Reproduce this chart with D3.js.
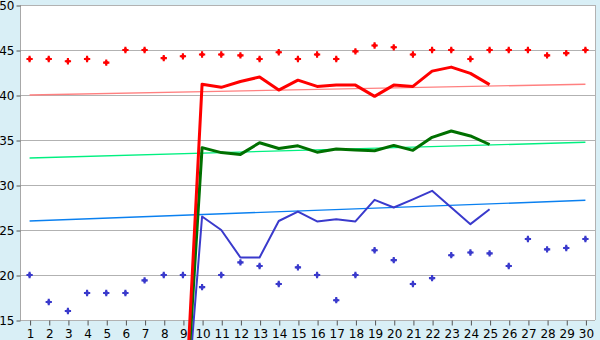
<!DOCTYPE html>
<html>
<head>
<meta charset="utf-8">
<script src="https://cdn.jsdelivr.net/npm/d3@7"></script>
<style>
  html, body { margin: 0; padding: 0; background: #d9eff6; }
  #chart { width: 600px; height: 340px; }
</style>
</head>
<body>
<div id="chart"></div>
<script>
// ── Data ────────────────────────────────────────────────────
const days = d3.range(1, 31);
const yTicks = [15, 20, 25, 30, 35, 40, 45, 50];

// scatter series (one value per day)
const highPoints = [44, 44, 43.75, 44, 43.6, 45, 45, 44.1, 44.3, 44.5,
  44.5, 44.4, 44, 44.75, 44, 44.5, 44, 44.85, 45.5, 45.3,
  44.5, 45, 45, 44, 45, 45, 45, 44.4, 44.65, 45];
const lowPoints = [20, 17, 16, 18, 18, 18, 19.4, 20, 20, 18.65,
  20, 21.4, 21, 19, 20.85, 20, 17.2, 20, 22.75, 21.65,
  19, 19.65, 22.2, 22.5, 22.4, 21, 24, 22.85, 23, 24];

// line series, days 9..25
const lineDays = d3.range(9, 26);
const redLine = [0, 41.2, 40.85, 41.5, 42, 40.55, 41.65, 40.95, 41.1,
  41.1, 39.85, 41.1, 40.95, 42.65, 43.1, 42.4, 41.15];
const greenLine = [0, 34.15, 33.6, 33.4, 34.7, 34.05, 34.35, 33.65, 34,
  33.9, 33.8, 34.4, 33.85, 35.3, 36, 35.45, 34.5];
const blueLine = [0, 26.5, 25, 21.95, 21.95, 26, 27.05, 25.95, 26.2,
  25.95, 28.35, 27.5, 28.4, 29.35, 27.5, 25.65, 27.3];

// trend lines: value at day 1 and day 30
const trendDays = [1, 30];
const redTrend = [40, 41.2];
const greenTrend = [33, 34.75];
const blueTrend = [26, 28.3];

// ── Layout ──────────────────────────────────────────────────
const W = 600, H = 340;
const pL = 20, pR = 595, pT = 5, pB = 320;
const font = '"DejaVu Sans", Verdana, sans-serif';

const svg = d3.select('#chart').append('svg')
  .attr('width', W).attr('height', H)
  .style('display', 'block');

const x = d3.scaleLinear().domain([0.5, 30.5]).range([pL, pR]);
const y = d3.scaleLinear().domain([15, 50]).range([pB, pT]);

// plot background
svg.append('rect')
  .attr('x', pL).attr('y', pT)
  .attr('width', pR - pL).attr('height', pB - pT)
  .attr('fill', '#fff');

// gridlines
svg.append('g')
  .selectAll('line').data(yTicks).join('line')
  .attr('x1', pL).attr('x2', pR)
  .attr('y1', d => Math.round(y(d)) + 0.5).attr('y2', d => Math.round(y(d)) + 0.5)
  .attr('stroke', '#b2b2b2').attr('stroke-width', 1);

// borders
svg.append('line')
  .attr('x1', pR + 0.5).attr('x2', pR + 0.5)
  .attr('y1', pT).attr('y2', pB)
  .attr('stroke', '#b2b2b2');
svg.append('line')
  .attr('x1', pL + 0.5).attr('x2', pL + 0.5)
  .attr('y1', pT).attr('y2', pB + 1)
  .attr('stroke', '#a8a8a8');

// y axis
const yAxis = svg.append('g')
  .attr('transform', `translate(${pL + 0.5},0.5)`)
  .call(d3.axisLeft(y).tickValues(yTicks).tickSize(4).tickPadding(2).tickFormat(d3.format('d')));
yAxis.select('.domain').remove();
yAxis.selectAll('line').attr('stroke', '#555');
yAxis.selectAll('text').attr('font-size', 12).attr('fill', '#000').attr('font-family', font);

// x axis
const xAxis = svg.append('g')
  .attr('transform', `translate(0.5,${pB + 0.5})`)
  .call(d3.axisBottom(x).tickValues(days).tickSize(5).tickPadding(4).tickFormat(d3.format('d')));
xAxis.select('.domain').remove();
xAxis.selectAll('line').attr('stroke', '#555');
xAxis.selectAll('text').attr('font-size', 12).attr('fill', '#000').attr('font-family', font);

// ── Trend lines ─────────────────────────────────────────────
const line = d3.line().x(d => x(d[0])).y(d => y(d[1]));
[[redTrend, '#ff8080'], [greenTrend, '#00f080'], [blueTrend, '#0a80f0']].forEach(([vals, col]) => {
  svg.append('path')
    .datum(trendDays.map((d, i) => [d, vals[i]]))
    .attr('d', line)
    .attr('fill', 'none')
    .attr('stroke', col)
    .attr('stroke-width', 1.4);
});

// ── Scatter markers ─────────────────────────────────────────
const cross = d3.symbol().type(d3.symbolCross).size(22)();
const diamond = d3.symbol().type(d3.symbolSquare).size(14)();
function marks(vals, col) {
  const g = svg.append('g').selectAll('g').data(vals).join('g')
    .attr('transform', (d, i) => `translate(${x(days[i])},${y(d)})`);
  g.append('path').attr('d', cross).attr('fill', col);
  g.append('path').attr('d', diamond).attr('transform', 'rotate(45)').attr('fill', col);
}
marks(highPoints, '#ff0000');
marks(lowPoints, '#3a3acc');

// ── Series lines ────────────────────────────────────────────
[[blueLine, '#3a3acc', 2], [greenLine, '#007000', 3], [redLine, '#ff0000', 3]].forEach(([vals, col, w]) => {
  svg.append('path')
    .datum(lineDays.map((d, i) => [d, vals[i]]))
    .attr('d', line)
    .attr('fill', 'none')
    .attr('stroke', col)
    .attr('stroke-width', w)
    .attr('stroke-linejoin', 'round');
});
</script>
</body>
</html>
